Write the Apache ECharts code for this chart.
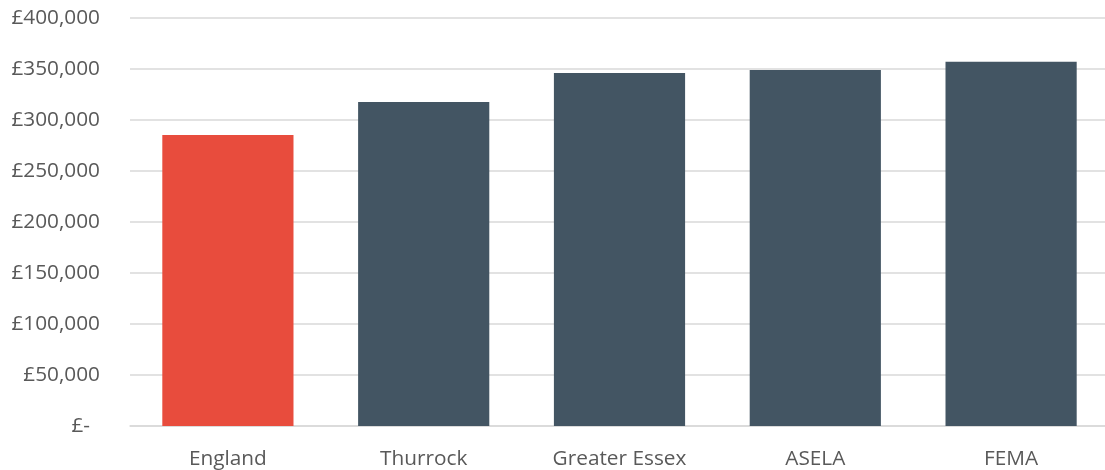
<!DOCTYPE html>
<html>
<head>
<meta charset="utf-8">
<script src="https://cdn.jsdelivr.net/npm/echarts@6/dist/echarts.min.js"></script>
<style>html,body{margin:0;padding:0;background:#fff;}#c{width:1105px;height:470px;}</style>
</head>
<body>
<div id="c"></div>
<script>
const categories = ['England', 'Thurrock', 'Greater Essex', 'ASELA', 'FEMA'];
const values = [285300, 317600, 346100, 349000, 357000];
const barColors = ['#E84C3D', '#435563', '#435563', '#435563', '#435563'];
const yTicks = [0, 50000, 100000, 150000, 200000, 250000, 300000, 350000, 400000];

const chart = echarts.init(document.getElementById('c'));
chart.setOption({
  animation: false,
  textStyle: { fontFamily: 'Open Sans' },
  grid: { left: 130, top: 18, width: 979, bottom: 44, containLabel: false, outerBoundsMode: 'none' },
  xAxis: {
    type: 'category',
    data: categories,
    axisLine: { show: true, lineStyle: { color: '#d9d9d9', width: 1.5 } },
    axisTick: { show: false },
    axisLabel: { color: '#595959', fontSize: 20.8, margin: 23 }
  },
  yAxis: {
    type: 'value',
    min: yTicks[0],
    max: yTicks[yTicks.length - 1],
    interval: 50000,
    axisLine: { show: false },
    axisTick: { show: false },
    splitLine: { lineStyle: { color: '#d9d9d9', width: 1.5 } },
    axisLabel: {
      color: '#595959', fontSize: 20.8, margin: 30,
      formatter: function (v) {
        if (v === 0) return '{z|£-}';
        return '£' + v.toLocaleString('en-GB');
      },
      rich: { z: { color: '#595959', fontSize: 20.8, fontFamily: 'Open Sans', padding: [0, 10, 0, 0] } }
    }
  },
  series: [{
    type: 'bar',
    barCategoryGap: '33%',
    data: values.map((v, i) => ({ value: v, itemStyle: { color: barColors[i] } }))
  }]
});
</script>
</body>
</html>
